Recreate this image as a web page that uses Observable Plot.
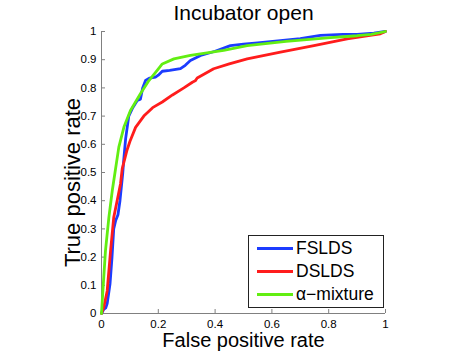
<!DOCTYPE html>
<html><head><meta charset="utf-8">
<script src="https://cdn.jsdelivr.net/npm/d3@7"></script>
<script src="https://cdn.jsdelivr.net/npm/@observablehq/plot@0.6"></script>
<style>
body{margin:0;background:#fff;font-family:"Liberation Sans",Arial,sans-serif}
#wrap{position:relative;width:470px;height:354px}
#legend{position:absolute;left:248px;top:235px;width:136px;height:73px;border:1px solid #222;background:#fff;box-sizing:border-box}
.sw{position:absolute;left:8px;width:36px;height:2.6px}
.lab{position:absolute;left:47px;font-size:17.5px;color:#000;white-space:nowrap;line-height:20px}
</style></head>
<body><div id="wrap"></div>
<script>
const seriesNames = ["FSLDS", "DSLDS", "α−mixture"];
const seriesColors = ["#1c3cff", "#ff1c1c", "#62ee12"];
const xTicks = [0, 0.2, 0.4, 0.6, 0.8, 1];
const yTicks = [0, 0.1, 0.2, 0.3, 0.4, 0.5, 0.6, 0.7, 0.8, 0.9, 1];
const titleText = "Incubator open";
const xLabel = "False positive rate";
const yLabel = "True positive rate";

const fsldsFpr = [0, .008, .015, .02, .025, .03, .037, .043, .05, .058, .065, .07, .075, .078, .085, .096, .11, .126, .137, .145, .155, .17, .19, .2, .214, .24, .278, .295, .313, .349, .4, .454, .5, .55, .63, .7, .771, .85, .9, .959, 1];
const fsldsTpr = [0, .015, .02, .035, .07, .105, .2, .3, .33, .35, .40, .45, .50, .54, .62, .70, .73, .755, .76, .80, .826, .835, .838, .845, .859, .862, .868, .88, .897, .915, .93, .95, .955, .96, .968, .975, .986, .99, .99, .994, 1];

const dsldsFpr = [0, .008, .02, .032, .043, .055, .067, .073, .09, .1, .12, .149, .18, .214, .25, .29, .32, .33, .337, .395, .45, .513, .63, .748, .865, .94, .982, 1];
const dsldsTpr = [0, .022, .08, .223, .34, .40, .46, .514, .58, .61, .66, .70, .73, .75, .775, .80, .82, .825, .835, .868, .885, .903, .927, .95, .974, .985, .992, 1];

const mixFpr = [0, .003, .008, .014, .026, .038, .049, .061, .079, .102, .137, .167, .196, .214, .255, .313, .43, .513, .65, .806, .9, .95, 1];
const mixTpr = [0, .05, .129, .223, .341, .436, .510, .590, .661, .72, .779, .826, .862, .885, .903, .915, .933, .95, .965, .978, .985, .99, 1];

const allFpr = [fsldsFpr, dsldsFpr, mixFpr];
const allTpr = [fsldsTpr, dsldsTpr, mixTpr];
const rows = [];
allFpr.forEach((fs, s) => fs.forEach((f, i) => rows.push({series: seriesNames[s], fpr: f, tpr: allTpr[s][i]})));

const axisGray = "#808080";
const chart = Plot.plot({
  width: 470, height: 354,
  marginLeft: 101, marginRight: 85, marginTop: 31, marginBottom: 41,
  x: {domain: [0, 1]},
  y: {domain: [0, 1]},
  color: {domain: seriesNames, range: seriesColors},
  style: {fontFamily: "Liberation Sans, Arial, sans-serif", fontSize: "11.5px", color: "#000", background: "#fff", overflow: "visible"},
  marks: [
    Plot.ruleY([0], {stroke: axisGray}),
    Plot.ruleX([0], {stroke: axisGray}),
    Plot.axisX(xTicks, {tickSize: -4, tickPadding: 10, stroke: axisGray, fill: "#000", label: null, tickFormat: d => String(d)}),
    Plot.axisY(yTicks, {tickSize: -4, tickPadding: 9, stroke: axisGray, fill: "#000", label: null, tickFormat: d => String(d)}),
    Plot.line(rows, {x: "fpr", y: "tpr", z: "series", stroke: "series", strokeWidth: 2.8, strokeLinejoin: "round", strokeLinecap: "round"}),
    Plot.text([titleText], {frameAnchor: "top", dy: -18, fontSize: 21, lineAnchor: "middle"}),
    Plot.text([xLabel], {frameAnchor: "bottom", dy: 27, fontSize: 20, lineAnchor: "middle"}),
    Plot.text([yLabel], {frameAnchor: "left", textAnchor: "middle", rotate: -90, dx: -29, dy: 10, fontSize: 22, lineAnchor: "middle"})
  ]
});
const wrap = document.getElementById("wrap");
wrap.appendChild(chart);

const legend = document.createElement("div");
legend.id = "legend";
const rowTops = [2, 25, 48];
seriesNames.forEach((n, i) => {
  const sw = document.createElement("div");
  sw.className = "sw";
  sw.style.top = (rowTops[i] + 9) + "px";
  sw.style.background = seriesColors[i];
  legend.appendChild(sw);
  const lab = document.createElement("div");
  lab.className = "lab";
  lab.style.top = rowTops[i] + "px";
  lab.textContent = n;
  legend.appendChild(lab);
});
wrap.appendChild(legend);
</script></body></html>
